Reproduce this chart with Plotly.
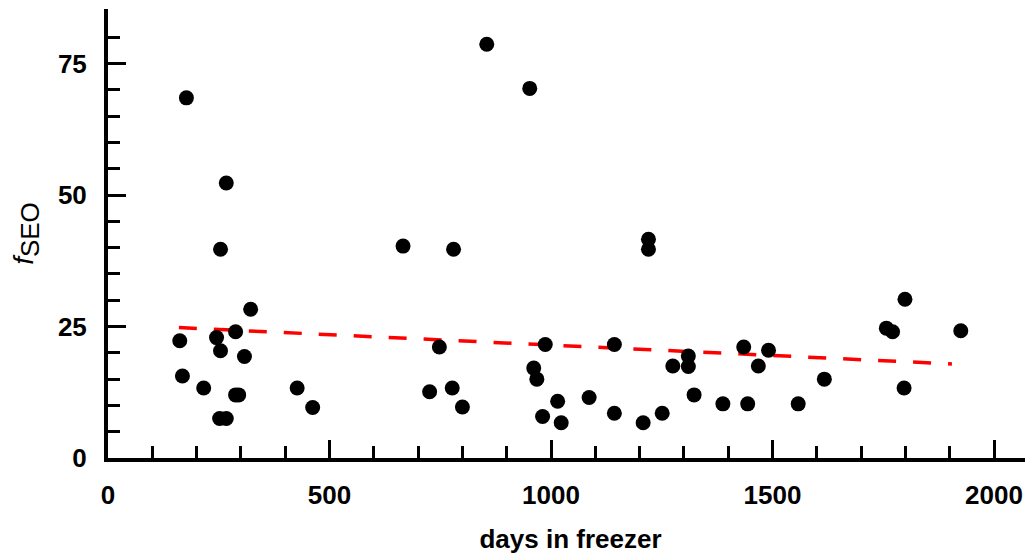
import plotly.graph_objects as go

# Data
days = [177, 267, 855, 952, 254, 666, 780, 322, 162, 245, 288, 254, 308,
        748, 168, 216, 288, 295, 252, 267, 427, 462, 726, 777, 800,
        1220, 1220, 987, 961, 968, 981, 1015, 1023, 1086, 1143, 1143,
        1208, 1251, 1275, 1310, 1310, 1323, 1388, 1435, 1444, 1468,
        1491, 1558, 1617, 1799, 1757, 1771, 1797, 1925]
fseo = [68.5, 52.3, 78.7, 70.3, 39.7, 40.3, 39.7, 28.3, 22.3, 22.9, 24.0,
        20.4, 19.3, 21.1, 15.6, 13.3, 12.0, 12.0, 7.5, 7.5, 13.3, 9.6,
        12.6, 13.3, 9.7, 41.6, 39.7, 21.6, 17.1, 15.0, 7.9, 10.8, 6.7,
        11.5, 21.6, 8.5, 6.7, 8.5, 17.5, 19.4, 17.4, 12.0, 10.3, 21.1,
        10.3, 17.5, 20.5, 10.3, 15.0, 30.2, 24.7, 24.0, 13.3, 24.2]

trend_x = [160, 1905]
trend_y = [24.8, 17.9]

x_major = [0, 500, 1000, 1500, 2000]
y_major = [0, 25, 50, 75]
x_minor = [v for v in range(100, 2001, 100) if v % 500 != 0]
y_minor = [v for v in range(5, 81, 5) if v % 25 != 0]

FONT = "Arial, Liberation Sans, sans-serif"

fig = go.Figure()
fig.add_trace(go.Scatter(
    x=trend_x, y=trend_y, mode="lines",
    line=dict(color="#ff0000", width=3.5, dash="18px,17px"),
    showlegend=False, hoverinfo="skip"))
fig.add_trace(go.Scatter(
    x=days, y=fseo, mode="markers",
    marker=dict(color="black", size=15, line=dict(width=0)),
    showlegend=False))

fig.update_layout(
    width=1025, height=552,
    margin=dict(l=100, r=0, t=1, b=102),
    plot_bgcolor="white", paper_bgcolor="white",
    font=dict(family=FONT, size=26, color="black"),
    xaxis=dict(
        range=[0, 2088], showgrid=False, zeroline=False,
        showline=True, linecolor="black", linewidth=4,
        tickmode="array", tickvals=x_major,
        ticks="inside", ticklen=18, tickwidth=3, tickcolor="black",
        minor=dict(tickmode="array", tickvals=x_minor, ticks="inside",
                   ticklen=12, tickwidth=3, tickcolor="black", showgrid=False),
        tickfont=dict(family=FONT, size=26, color="black", weight="bold"),
        ticklabelstandoff=11,
        title=dict(text="<b>days in freezer</b>", standoff=22,
                   font=dict(family=FONT, size=26, color="black")),
    ),
    yaxis=dict(
        range=[0, 85.4], showgrid=False, zeroline=False,
        showline=True, linecolor="black", linewidth=4,
        tickmode="array", tickvals=y_major,
        ticks="inside", ticklen=18, tickwidth=3, tickcolor="black",
        minor=dict(tickmode="array", tickvals=y_minor, ticks="inside",
                   ticklen=12, tickwidth=3, tickcolor="black", showgrid=False),
        tickfont=dict(family=FONT, size=26, color="black", weight="bold"),
        ticklabelstandoff=12,
        title=dict(text="<i>f</i><sub><span style='font-size:26px'>SEO</span></sub>",
                   standoff=22,
                   font=dict(family=FONT, size=28, color="black")),
    ),
)

fig.write_html("out.html")
